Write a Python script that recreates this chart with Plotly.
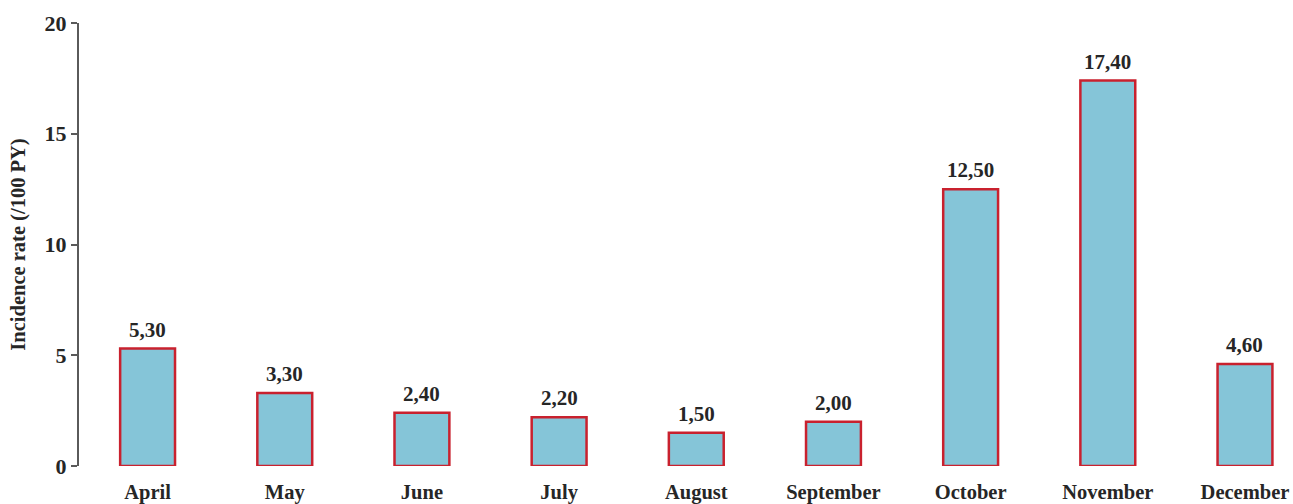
import plotly.graph_objects as go

months = ["April", "May", "June", "July", "August", "September", "October", "November", "December"]
incidence = [5.30, 3.30, 2.40, 2.20, 1.50, 2.00, 12.50, 17.40, 4.60]
y_ticks = [0, 5, 10, 15, 20]

labels = [f"{v:.2f}".replace(".", ",") for v in incidence]

FONT = "Liberation Serif"
TXT = "#262626"

fig = go.Figure(go.Bar(
    x=months, y=incidence,
    width=0.4,
    marker=dict(color="#85C5D8", line=dict(color="#C9212E", width=2.5)),
))

for m, v, t in zip(months, incidence, labels):
    fig.add_annotation(
        x=m, y=v, text=t, showarrow=False, yanchor="bottom", yshift=5,
        font=dict(family=FONT, size=21, color=TXT, weight="bold"),
    )

fig.update_layout(
    width=1293, height=504,
    margin=dict(l=79, r=0, t=23, b=38),
    paper_bgcolor="white", plot_bgcolor="white",
    showlegend=False,
    font=dict(family=FONT, size=20, color=TXT, weight="bold"),
    bargap=0.6,
)
fig.update_xaxes(
    range=[-0.5, 8.35], showline=False, showgrid=False, zeroline=False,
    ticks="outside", ticklen=7, tickcolor="rgba(0,0,0,0)",
    tickfont=dict(family=FONT, size=20.5, color=TXT, weight="bold"),
)
fig.update_yaxes(
    range=[0, 20], tickvals=y_ticks, showgrid=False, zeroline=False,
    showline=True, linecolor="#5a5a5a", linewidth=2,
    ticks="outside", ticklen=6, tickcolor="#5a5a5a", tickwidth=1.5,
    tickfont=dict(family=FONT, size=22, color=TXT, weight="bold"),
    title=dict(text="Incidence rate (/100 PY)", font=dict(family=FONT, size=20.5, color=TXT, weight="bold"), standoff=13),
)

fig.write_html("out.html")
